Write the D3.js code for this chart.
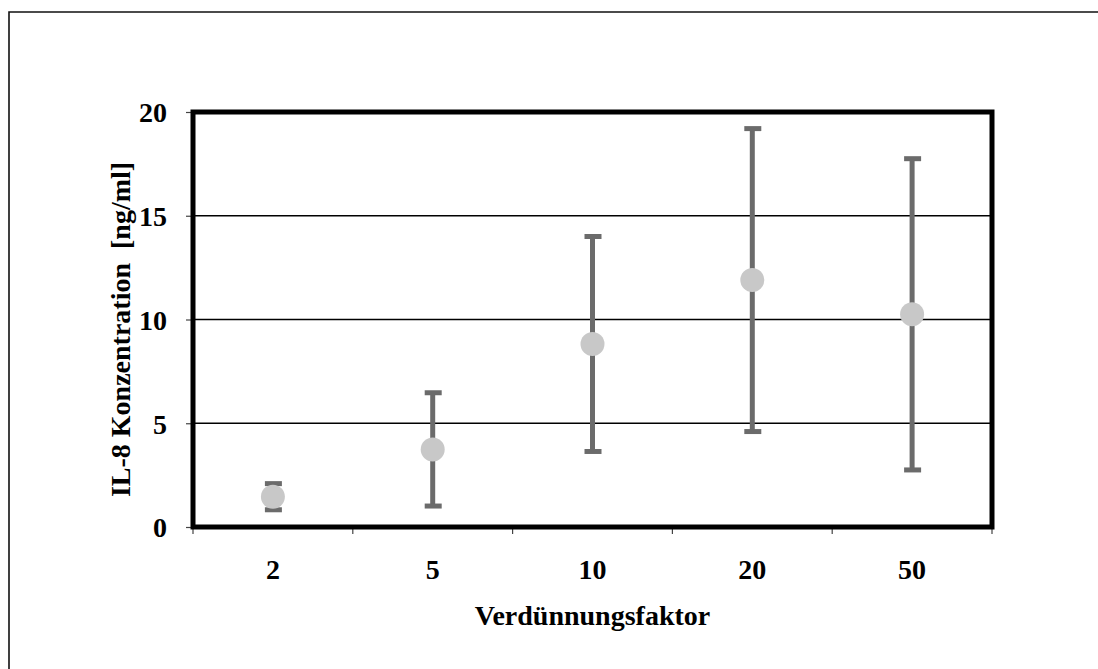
<!DOCTYPE html>
<html>
<head>
<meta charset="utf-8">
<script src="https://cdn.jsdelivr.net/npm/d3@7"></script>
<style>
  html, body { margin: 0; padding: 0; background: #fff; }
  svg { display: block; }
  text { font-family: "Liberation Serif", "Times New Roman", serif; font-weight: bold; fill: #000; }
</style>
</head>
<body>
<svg id="chart" width="1098" height="669"></svg>
<script>
// Dilution factors and measured IL-8 concentration (mean ± SD, ng/ml)
const categories = ["2", "5", "10", "20", "50"];
const means = [1.46, 3.74, 8.82, 11.9, 10.25];
const errors = [0.63, 2.73, 5.18, 7.3, 7.5];
const yTicks = [0, 5, 10, 15, 20];
const xTitle = "Verdünnungsfaktor";
const yTitle = "IL-8 Konzentration  [ng/ml]";

const svg = d3.select("#chart");
const W = 1098, H = 669;
const plot = { left: 193, right: 992, top: 112, bottom: 527 };

// Outer frame: only top and left edges fall inside the page
svg.append("path")
  .attr("d", `M9,${H} L9,12 L${W},12`)
  .attr("fill", "none")
  .attr("stroke", "#111")
  .attr("stroke-width", 1.6);

const x = d3.scaleBand().domain(categories).range([plot.left, plot.right]).padding(0);
const y = d3.scaleLinear().domain([0, 20]).range([plot.bottom, plot.top]);

// Horizontal gridlines
svg.append("g")
  .selectAll("line")
  .data(yTicks.filter(t => t > 0 && t < 20))
  .join("line")
  .attr("x1", plot.left).attr("x2", plot.right)
  .attr("y1", d => y(d)).attr("y2", d => y(d))
  .attr("stroke", "#000").attr("stroke-width", 1.5);

// Y axis ticks and labels
const yAxis = d3.axisLeft(y).tickValues(yTicks).tickSize(7).tickPadding(19).tickFormat(d3.format("d"));
const gy = svg.append("g").attr("transform", `translate(${plot.left},0)`).call(yAxis);
gy.select(".domain").remove();
gy.selectAll(".tick line").attr("stroke", "#444").attr("stroke-width", 1.2);
gy.selectAll(".tick text").style("font-size", "28px").attr("dy", "0.35em");

// X axis ticks at category boundaries
const boundaries = categories.map(c => x(c)).concat([x(categories[categories.length - 1]) + x.bandwidth()]);
svg.append("g")
  .selectAll("line")
  .data(boundaries)
  .join("line")
  .attr("x1", d => d).attr("x2", d => d)
  .attr("y1", plot.bottom).attr("y2", plot.bottom + 7)
  .attr("stroke", "#444").attr("stroke-width", 1.2);

// X category labels
svg.append("g")
  .selectAll("text")
  .data(categories)
  .join("text")
  .attr("x", d => x(d) + x.bandwidth() / 2)
  .attr("y", 579)
  .attr("text-anchor", "middle")
  .style("font-size", "28px")
  .text(d => d);

// Error bars
const bars = svg.append("g");
const data = categories.map((c, i) => ({ c, m: means[i], e: errors[i] }));
bars.selectAll("line.stem")
  .data(data)
  .join("line")
  .attr("class", "stem")
  .attr("x1", d => x(d.c) + x.bandwidth() / 2)
  .attr("x2", d => x(d.c) + x.bandwidth() / 2)
  .attr("y1", d => y(d.m - d.e))
  .attr("y2", d => y(d.m + d.e))
  .attr("stroke", "#6b6b6b").attr("stroke-width", 5);
["lo", "hi"].forEach(k => {
  bars.selectAll(`line.cap-${k}`)
    .data(data)
    .join("line")
    .attr("class", `cap-${k}`)
    .attr("x1", d => x(d.c) + x.bandwidth() / 2 - 8)
    .attr("x2", d => x(d.c) + x.bandwidth() / 2 + 9)
    .attr("y1", d => y(k === "lo" ? d.m - d.e : d.m + d.e))
    .attr("y2", d => y(k === "lo" ? d.m - d.e : d.m + d.e))
    .attr("stroke", "#6b6b6b").attr("stroke-width", 5);
});

// Mean markers
svg.append("g")
  .selectAll("circle")
  .data(data)
  .join("circle")
  .attr("cx", d => x(d.c) + x.bandwidth() / 2)
  .attr("cy", d => y(d.m))
  .attr("r", 12)
  .attr("fill", "#c8c8c8");

// Plot area border
svg.append("rect")
  .attr("x", plot.left).attr("y", plot.top)
  .attr("width", plot.right - plot.left).attr("height", plot.bottom - plot.top)
  .attr("fill", "none").attr("stroke", "#000").attr("stroke-width", 5);

// Axis titles
svg.append("text")
  .attr("x", (plot.left + plot.right) / 2)
  .attr("y", 625)
  .attr("text-anchor", "middle")
  .style("font-size", "28px")
  .text(xTitle);

svg.append("text")
  .attr("transform", `translate(130,${(plot.top + plot.bottom) / 2 + 10}) rotate(-90)`)
  .attr("text-anchor", "middle")
  .style("font-size", "28px")
  .style("white-space", "pre")
  .text(yTitle);
</script>
</body>
</html>
